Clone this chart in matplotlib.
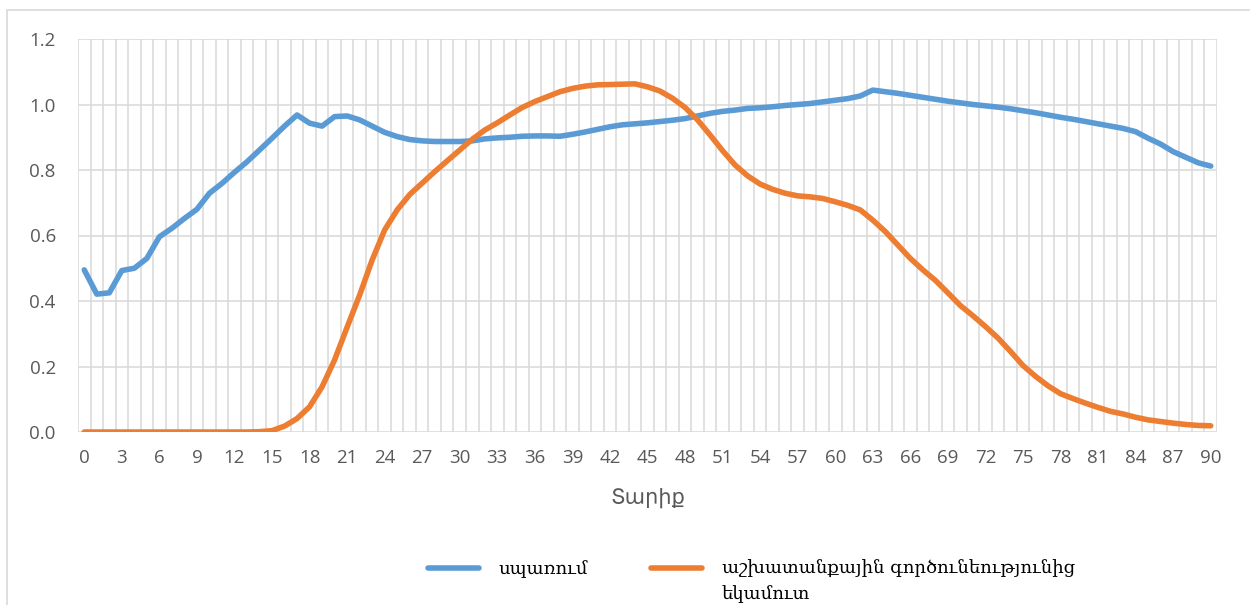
import matplotlib.pyplot as plt
import numpy as np
from matplotlib.patches import Rectangle
from matplotlib.ticker import FormatStrFormatter

# ages 0..90
ages = np.arange(0, 91)

# consumption profile
consumption = [
    0.495, 0.421, 0.425, 0.493, 0.500, 0.530, 0.596, 0.622, 0.652, 0.680,
    0.729, 0.759, 0.793, 0.825, 0.861, 0.897, 0.934, 0.968, 0.943, 0.934,
    0.963, 0.965, 0.953, 0.934, 0.915, 0.902, 0.893, 0.889, 0.887, 0.887,
    0.887, 0.889, 0.895, 0.898, 0.900, 0.903, 0.904, 0.904, 0.903, 0.909,
    0.916, 0.924, 0.932, 0.938, 0.941, 0.944, 0.948, 0.952, 0.957, 0.965,
    0.973, 0.979, 0.983, 0.988, 0.990, 0.993, 0.997, 1.000, 1.003, 1.008,
    1.013, 1.018, 1.026, 1.044, 1.039, 1.034, 1.028, 1.022, 1.016, 1.010,
    1.005, 1.000, 0.996, 0.992, 0.987, 0.981, 0.975, 0.968, 0.961, 0.955,
    0.948, 0.941, 0.934, 0.927, 0.917, 0.897, 0.879, 0.856, 0.839, 0.822,
    0.812,
]

# labour income profile
labour_income = [
    0.000, 0.000, 0.000, 0.000, 0.000, 0.000, 0.000, 0.000, 0.000, 0.000,
    0.000, 0.000, 0.000, 0.000, 0.001, 0.004, 0.018, 0.041, 0.077, 0.138,
    0.220, 0.320, 0.418, 0.525, 0.617, 0.678, 0.725, 0.760, 0.795, 0.828,
    0.861, 0.894, 0.922, 0.944, 0.968, 0.991, 1.009, 1.024, 1.039, 1.049,
    1.056, 1.060, 1.061, 1.062, 1.063, 1.054, 1.041, 1.019, 0.991, 0.953,
    0.907, 0.859, 0.815, 0.782, 0.757, 0.741, 0.729, 0.721, 0.718, 0.713,
    0.703, 0.692, 0.678, 0.647, 0.612, 0.571, 0.530, 0.495, 0.463, 0.425,
    0.386, 0.355, 0.322, 0.287, 0.246, 0.203, 0.170, 0.141, 0.117, 0.102,
    0.088, 0.075, 0.063, 0.055, 0.045, 0.037, 0.032, 0.027, 0.023, 0.020,
    0.019,
]

label_cons = 'սպառում'
label_inc_1 = 'աշխատանքային գործունեությունից'
label_inc_2 = 'եկամուտ'
xlabel = 'Տարիք'

W, H = 1250, 605
fig = plt.figure(figsize=(W / 100, H / 100), dpi=100)

# outer chart border (extends past right / bottom edges)
fig.patches.append(Rectangle((7 / W, -0.1), 1.2, 1 - 10 / H + 0.1, transform=fig.transFigure,
                             fill=False, edgecolor='#d9d9d9', linewidth=1.2))

ax = fig.add_axes([78 / W, 1 - 432 / H, (1217 - 78) / W, (432 - 39) / H])

ax.plot(ages, consumption, color='#5b9bd5', linewidth=4, solid_capstyle='round',
        solid_joinstyle='round', label=label_cons, zorder=3)
ax.plot(ages, labour_income, color='#ed7d31', linewidth=4, solid_capstyle='round',
        solid_joinstyle='round', label=label_inc_1, zorder=3)

ax.set_xlim(-0.5, 90.5)
ax.set_ylim(0, 1.2)
ax.set_xticks(np.arange(0, 91, 3))
ax.set_xticks(np.arange(-0.5, 91, 1), minor=True)
ax.set_yticks(np.arange(0, 1.21, 0.2))
ax.yaxis.set_major_formatter(FormatStrFormatter('%.1f'))

ax.grid(which='minor', axis='x', color='#d9d9d9', linewidth=1.1)
ax.grid(which='major', axis='y', color='#d9d9d9', linewidth=1.1)
ax.set_axisbelow(True)
for s in ax.spines.values():
    s.set_visible(False)

ax.tick_params(which='both', length=0)
ax.tick_params(axis='y', pad=16, labelsize=13.5, labelcolor='#595959')
ax.tick_params(axis='x', pad=12, labelsize=13.5, labelcolor='#595959')
for t in ax.get_xticklabels() + ax.get_yticklabels():
    t.set_fontfamily(['Open Sans', 'DejaVu Sans'])

ax.set_xlabel(xlabel, fontsize=15, color='#595959', family='DejaVu Sans', labelpad=15)

leg = ax.legend(loc='upper left', bbox_to_anchor=(428 / W, 1 - 560 / H),
                bbox_transform=fig.transFigure, ncol=2, frameon=False,
                borderpad=0, borderaxespad=0, handlelength=2.8, handletextpad=1.1,
                columnspacing=3.5, prop={'family': 'DejaVu Serif', 'size': 13})

# second line of the wrapped legend label
fig.canvas.draw()
bb = leg.get_texts()[1].get_window_extent()
fig.text(bb.x0 / W, (bb.y0 - 25) / H, label_inc_2, family='DejaVu Serif', fontsize=13,
         ha='left', va='bottom')

fig.savefig('out.png', dpi=100)
